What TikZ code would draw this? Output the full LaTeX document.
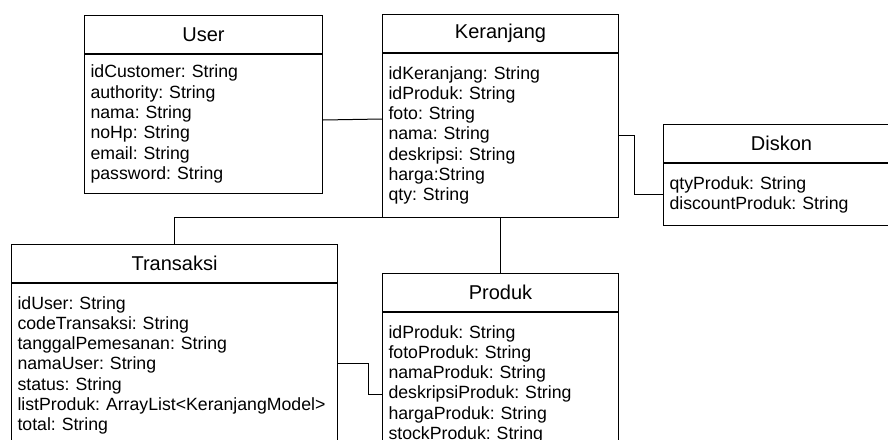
\documentclass[tikz,border=0pt]{standalone}
\usepackage{fontspec}
\setmainfont{Liberation Sans}
\frenchspacing
\begin{document}
\begin{tikzpicture}[
    x=1pt,y=-1pt,
    head/.style={draw,line width=1pt,minimum width=#1,minimum height=38pt,anchor=north west,
        font=\fontsize{20}{24}\selectfont},
    head/.default=236pt,
    attrs/.style={draw,line width=1pt,text width=#1,align=left,anchor=north,
        inner xsep=6pt,inner ysep=12.7pt,font=\fontsize{17.7}{20.3}\selectfont},
    attrs/.default=224pt,
    link/.style={line width=1pt}
]
\useasboundingbox (0,0) rectangle (888,439);
\clip (0,0) rectangle (888,439);
\fill[white] (0,0) rectangle (888,439);

% classes
\node[head=238pt] (userH) at (84,15) {User};
\node[attrs=226pt,inner ysep=10.5pt] (userB) at (userH.south) {idCustomer: String\\authority: String\\nama: String\\noHp: String\\email: String\\password: String};

\node[head] (kerH) at (382,14) {Keranjang};
\node[attrs] (kerB) at (kerH.south) {idKeranjang: String\\idProduk: String\\foto: String\\nama: String\\deskripsi: String\\harga:String\\qty: String};

\node[head] (diskH) at (663,124) {Diskon};
\node[attrs] (diskB) at (diskH.south) {qtyProduk: String\\discountProduk: String};

\node[head=326pt] (transH) at (11,244) {Transaksi};
\node[attrs=314pt] (transB) at (transH.south) {idUser: String\\codeTransaksi: String\\tanggalPemesanan: String\\namaUser: String\\status: String\\listProduk: ArrayList<KeranjangModel>\\total: String};

\node[head] (prodH) at (382,273) {Produk};
\node[attrs] (prodB) at (prodH.south) {idProduk: String\\fotoProduk: String\\namaProduk: String\\deskripsiProduk: String\\hargaProduk: String\\stockProduk: String};

% relations
\draw[link] ([yshift=-66pt]userB.north east) -- ([yshift=-66pt]kerB.north west);
\draw[link] (kerB.east) -- ++(15,0) |- (diskB.west);
\draw[link] (kerB.south west) -| (transH.north);
\draw[link] (kerB.south) -- (prodH.north);
\draw[link] ([yshift=-80pt]transB.north east) -- ++(30,0) |- ([yshift=-82pt]prodB.north west);
\end{tikzpicture}
\end{document}
